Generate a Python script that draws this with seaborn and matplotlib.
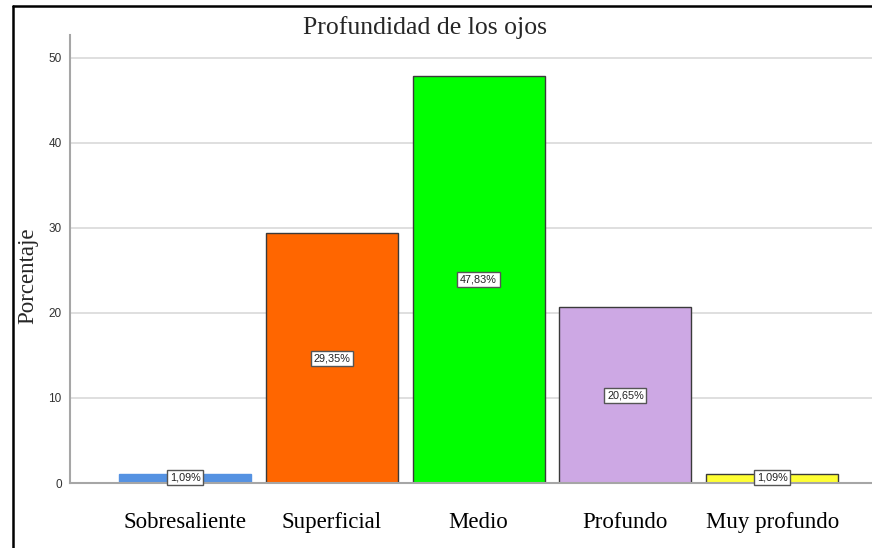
import matplotlib
matplotlib.use("Agg")
import matplotlib.pyplot as plt
import seaborn as sns
import pandas as pd
from matplotlib.lines import Line2D

categories = ["Sobresaliente", "Superficial", "Medio", "Profundo", "Muy profundo"]
values = [1.09, 29.35, 47.83, 20.65, 1.09]
labels = ["1,09%", "29,35%", "47,83%", "20,65%", "1,09%"]
colors = ["#5592E2", "#FF6600", "#00FF00", "#CDA8E4", "#FFFF33"]
edges = ["#5592E2", "#3a3a3a", "#3a3a3a", "#3a3a3a", "#3a3a3a"]
yticks = [0, 10, 20, 30, 40, 50]

df = pd.DataFrame({"cat": categories, "val": values})

sns.set_style("white")
W, H = 872, 548
fig = plt.figure(figsize=(W / 100, H / 100), dpi=100)
ax = fig.add_axes([70 / W, 1 - 483 / H, (W - 70) / W, (483 - 35) / H])

sns.barplot(data=df, x="cat", y="val", hue="cat", palette=colors, legend=False,
            width=0.9, ax=ax, saturation=1)
for p, ec in zip(ax.patches, edges):
    p.set_edgecolor(ec)
    p.set_linewidth(1.0)
    p.set_zorder(3)

ax.set_xlim(-0.784, 4.68)
ax.set_ylim(0, 52.7)
ax.set_yticks(yticks)
ax.set_yticklabels([str(t) for t in yticks], fontsize=8.5, color="#333333",
                   family="Liberation Sans")
ax.tick_params(axis="y", length=0, pad=6)
ax.tick_params(axis="x", length=0, pad=21)
ax.set_xticks(range(len(categories)))
ax.set_xticklabels(categories, fontsize=16.5, family="Liberation Serif", color="black")
ax.yaxis.grid(True, color="#d9d9d9", linewidth=1.2, zorder=0)
ax.set_axisbelow(True)
for s in ["top", "right"]:
    ax.spines[s].set_visible(False)
for s in ["left", "bottom"]:
    ax.spines[s].set_color("#a6a6a6")
    ax.spines[s].set_linewidth(1.5)
    ax.spines[s].set_zorder(4)
ax.set_xlabel("")
ax.set_ylabel("")

for i, (v, lab) in enumerate(zip(values, labels)):
    ax.text(i, max(v / 2, 0.65), lab, ha="center", va="center", fontsize=7.8,
            family="Liberation Sans", color="#222222", zorder=6,
            bbox=dict(boxstyle="square,pad=0.25", facecolor="white",
                      edgecolor="#555555", linewidth=1.0))

fig.text(425 / W, 1 - 28 / H, "Profundidad de los ojos", ha="center", va="center",
         fontsize=18.5, family="Liberation Serif")
fig.text(28 / W, 1 - 276 / H, "Porcentaje", ha="center", va="center", rotation=90,
         fontsize=16.5, family="Liberation Serif")

fig.add_artist(Line2D([13 / W, 13 / W], [0, 1 - 6 / H], color="black", linewidth=1.8,
                      transform=fig.transFigure))
fig.add_artist(Line2D([13 / W, 1], [1 - 6 / H, 1 - 6 / H], color="black", linewidth=1.8,
                      transform=fig.transFigure))

fig.savefig("out.png", dpi=100)
